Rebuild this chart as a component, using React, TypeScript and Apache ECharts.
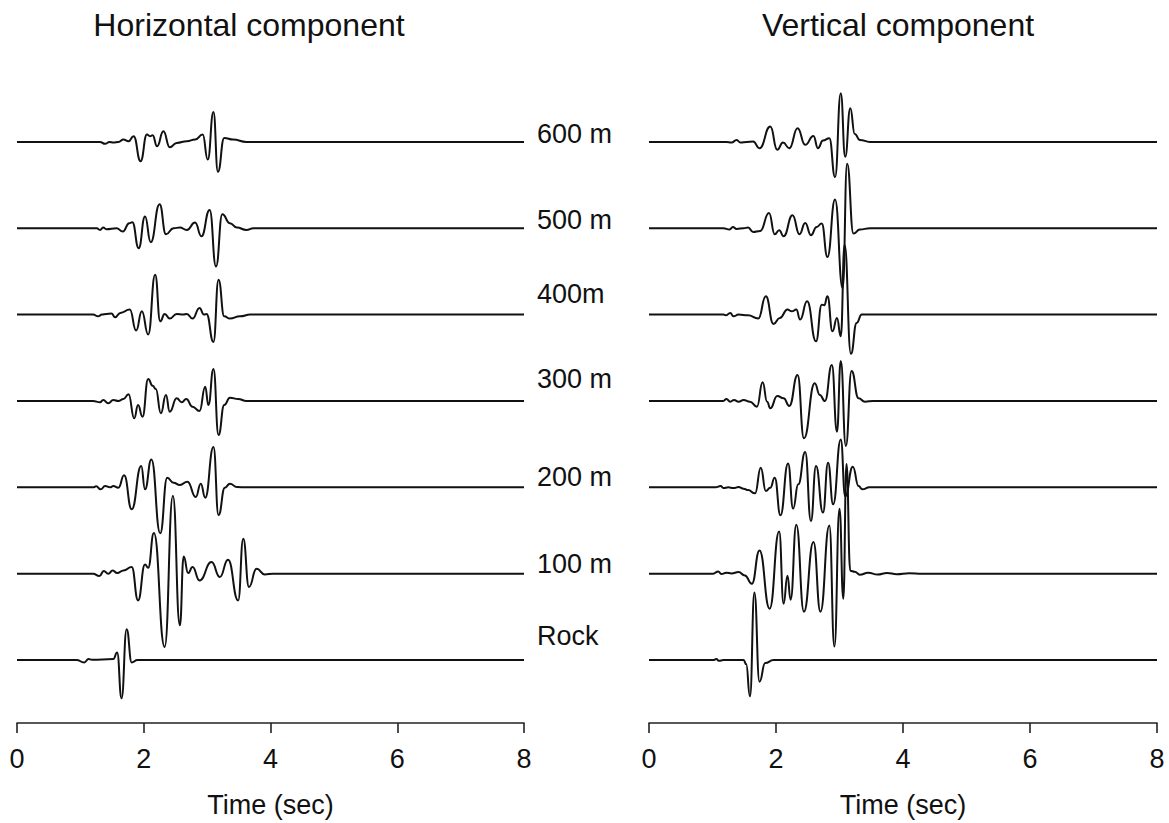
import React, { useEffect, useRef } from "react";
import * as echarts from "echarts";

// Trace labels (top to bottom) and axis ticks
const TRACE_LABELS = ["600 m", "500 m", "400m", "300 m", "200 m", "100 m", "Rock"];
const X_TICKS = [0, 2, 4, 6, 8];

// Horizontal component: [time (s), amplitude] read at the extrema of each trace
const H600: number[][] = [[0,0],[1.31,0],[1.39,-2],[1.46,0],[1.52,-0.7],[1.60,0],[1.68,2.3],[1.76,0.7],[1.84,5.7],[1.95,-19.3],[2.05,7.3],[2.10,5.7],[2.14,6.7],[2.21,-4.3],[2.31,10.7],[2.41,-5.3],[2.52,-1],[2.68,0.7],[2.81,2.3],[2.93,7.3],[3.01,-17.7],[3.10,30],[3.17,-30],[3.27,4],[3.41,2.3],[3.62,0],[8,0]];
const H500: number[][] = [[0,0],[1.26,0],[1.31,-1.7],[1.36,0.7],[1.41,-1],[1.57,0],[1.67,-3.3],[1.77,5],[1.82,6],[1.92,-20],[2.02,11.7],[2.11,-14],[2.25,24],[2.35,-6],[2.47,0],[2.57,0.7],[2.68,-1.7],[2.81,5.7],[2.91,-8],[3.04,18.3],[3.14,-38.3],[3.24,14],[3.36,5],[3.47,0.7],[3.62,-1.7],[3.73,0],[8,0]];
const H400: number[][] = [[0,0],[1.20,0],[1.28,-1.7],[1.34,0],[1.41,0.7],[1.49,1],[1.55,-2.7],[1.63,1.7],[1.78,5],[1.88,-16],[1.97,3.3],[2.07,-20],[2.18,40],[2.26,-6.7],[2.33,0.7],[2.41,-4],[2.52,0.7],[2.62,0],[2.68,0.7],[2.77,-4],[2.88,6.7],[2.95,0],[2.99,0.7],[3.10,-27.3],[3.18,35],[3.27,-1.7],[3.36,-4],[3.52,-1.7],[3.68,0],[8,0]];
const H300: number[][] = [[0,0],[1.20,0],[1.31,-1.3],[1.36,1],[1.44,-2.3],[1.52,1],[1.60,0],[1.68,2],[1.76,6.7],[1.85,-17.3],[1.91,-4],[1.98,-15.7],[2.07,22],[2.14,15.3],[2.19,12],[2.27,-12.3],[2.35,6],[2.41,-10.7],[2.52,2.7],[2.60,-1.3],[2.67,2],[2.77,-5.7],[2.88,-10],[2.97,14.3],[3.02,-4],[3.10,32],[3.18,-34],[3.27,-4],[3.36,3.3],[3.49,2],[3.62,0],[8,0]];
const H200: number[][] = [[0,0],[1.20,0],[1.25,1],[1.32,-2],[1.39,1.3],[1.47,0],[1.52,1.3],[1.60,-0.3],[1.69,12],[1.81,-22],[1.96,21.3],[2.02,-2],[2.12,28],[2.26,-46],[2.37,9.7],[2.47,4.7],[2.57,2.3],[2.69,5.7],[2.82,-9.7],[2.90,3.7],[2.97,-10.3],[3.10,40.3],[3.18,-27.7],[3.28,-0.3],[3.36,3.7],[3.47,0.3],[3.62,0],[8,0]];
const H100: number[][] = [[0,0],[1.20,0],[1.30,-2.3],[1.37,2.7],[1.44,0],[1.51,3.3],[1.58,0.7],[1.68,3.3],[1.81,6.7],[1.91,-26.7],[2.02,9.3],[2.07,6],[2.16,40.7],[2.33,-73.3],[2.46,78],[2.57,-51.7],[2.63,17.3],[2.70,0.7],[2.77,6.7],[2.88,-6.7],[3.07,11.7],[3.20,-3.3],[3.33,14],[3.49,-26.7],[3.57,35],[3.66,-13.3],[3.78,5],[3.91,-0.7],[4.04,0],[8,0]];
const HROCK: number[][] = [[0,0],[0.94,0],[1.06,-2.3],[1.13,1],[1.18,0.3],[1.52,1],[1.58,7.7],[1.65,-38.3],[1.73,31],[1.81,-2.3],[1.90,0],[8,0]];

// Vertical component
const V600: number[][] = [[0,0],[1.22,0],[1.30,-0.7],[1.38,2],[1.44,-0.7],[1.54,0],[1.64,0.3],[1.74,-6.3],[1.91,15.3],[2.02,-8],[2.11,-0.7],[2.21,-6.3],[2.34,13.7],[2.46,-3],[2.59,6],[2.66,-6.3],[2.74,1.3],[2.84,3.7],[2.93,-35.3],[3.02,48.7],[3.09,-15],[3.17,33.7],[3.24,8],[3.32,2],[3.48,0],[8,0]];
const V500: number[][] = [[0,0],[1.17,0],[1.27,-1.3],[1.32,1.3],[1.38,-0.7],[1.49,0],[1.56,0.7],[1.64,-3.7],[1.75,-2.7],[1.89,15.3],[1.98,-6],[2.05,-2],[2.12,-8],[2.26,13],[2.37,-6],[2.46,5.3],[2.55,-7],[2.64,1.3],[2.72,4.7],[2.81,-28.7],[2.93,28.7],[3.05,-60],[3.12,64.7],[3.22,-5.3],[3.32,-1.3],[3.48,0],[8,0]];
const V400: number[][] = [[0,0],[1.17,0],[1.21,-0.7],[1.28,1.7],[1.33,-1.7],[1.41,0],[1.56,-0.7],[1.72,-4],[1.84,18.3],[1.96,-9.3],[2.06,-3.3],[2.18,5],[2.25,3.3],[2.32,5],[2.38,-5],[2.49,13.3],[2.63,-26.7],[2.72,10],[2.76,9.3],[2.81,18.3],[2.89,-16.7],[2.96,-3.3],[3.02,-21.7],[3.08,70],[3.18,-39.3],[3.27,-8.3],[3.35,0],[8,0]];
const V300: number[][] = [[0,0],[1.17,0],[1.22,2],[1.28,-0.7],[1.34,1],[1.41,-0.7],[1.49,1],[1.59,-0.7],[1.70,-5.7],[1.79,18.7],[1.86,-0.7],[1.91,-7.3],[2.02,5],[2.12,2.7],[2.21,-5],[2.34,26],[2.44,-37.3],[2.61,17.7],[2.69,6],[2.77,0],[2.88,36],[2.96,-30.7],[3.02,40],[3.10,-45],[3.19,30],[3.30,2.7],[3.40,-0.7],[3.53,0],[8,0]];
const V200: number[][] = [[0,0],[1.05,0],[1.13,1.3],[1.17,-0.7],[1.25,0],[1.33,-0.7],[1.41,0.3],[1.49,-1.3],[1.56,-2.7],[1.67,-6],[1.76,19.7],[1.84,-3.7],[1.91,-0.3],[1.98,9.7],[2.07,-28],[2.19,24],[2.27,-21.3],[2.35,3],[2.46,35.3],[2.55,-33.7],[2.63,21.3],[2.74,-25.3],[2.82,24.7],[2.90,-17],[3.02,48],[3.09,-9],[3.21,20.7],[3.30,1.3],[3.36,-2],[3.47,0],[8,0]];
const V100: number[][] = [[0,0],[1.01,0],[1.09,2.3],[1.14,-0.3],[1.22,1],[1.30,0.3],[1.41,1.7],[1.51,-1.7],[1.62,-10],[1.74,23.3],[1.90,-35],[2.05,42.3],[2.12,-30],[2.18,-2],[2.23,-26],[2.32,49],[2.44,-38],[2.59,31.7],[2.70,-38],[2.84,48.3],[2.92,-73],[3.00,65],[3.06,-25],[3.11,110],[3.17,3],[3.24,2],[3.32,-1],[3.45,1],[3.60,-0.8],[3.75,0.8],[3.90,-0.5],[4.10,0.5],[4.30,0],[8,0]];
const VROCK: number[][] = [[0,0],[1.01,0],[1.06,1],[1.10,-0.7],[1.17,0],[1.49,0],[1.53,-4],[1.59,-36.3],[1.66,67.7],[1.74,-21.7],[1.83,-3],[1.96,0],[8,0]];

const HORIZONTAL = [H600, H500, H400, H300, H200, H100, HROCK];
const VERTICAL = [V600, V500, V400, V300, V200, V100, VROCK];

export default function App() {
  const ref = useRef<HTMLDivElement>(null);
  useEffect(() => {
    const el = ref.current;
    if (!el) return;
    const chart = echarts.init(el, null, { renderer: "svg" });
    const spacing = 86.5;
    const n = TRACE_LABELS.length;
    const font = "'Liberation Sans', Arial, Helvetica, sans-serif";
    const mkSeries = (traces: number[][][], idx: number, prefix: string) =>
      traces.map((pts, i) => ({
        type: "line",
        name: prefix + " " + TRACE_LABELS[i],
        xAxisIndex: idx,
        yAxisIndex: idx,
        data: pts.map(([t, a]) => [t, (n - 1 - i) * spacing + a]),
        showSymbol: false,
        symbol: "none",
        smooth: 0.5,
        smoothMonotone: "x",
        silent: true,
        lineStyle: { color: "#111111", width: 2 },
      }));
    const xAxisBase = (gridIndex: number) => ({
      type: "value",
      gridIndex,
      min: X_TICKS[0],
      max: X_TICKS[X_TICKS.length - 1],
      interval: 2,
      name: "Time (sec)",
      nameLocation: "middle",
      nameGap: 68,
      nameTextStyle: { fontFamily: font, fontSize: 27, color: "#111" },
      axisLine: { show: true, onZero: false, lineStyle: { color: "#222", width: 1.6 } },
      axisTick: { show: true, length: 10, lineStyle: { color: "#222", width: 1.6 } },
      axisLabel: { fontFamily: font, fontSize: 27, color: "#111", margin: 22 },
      splitLine: { show: false },
    });
    const yAxisBase = (gridIndex: number) => ({
      type: "value",
      gridIndex,
      min: -63,
      max: 600,
      show: false,
      splitLine: { show: false },
    });
    const labelYs = [134, 220, 294, 379, 477, 564, 636];
    chart.setOption({
      animation: false,
      backgroundColor: "#ffffff",
      grid: [
        { left: 17, top: 61, width: 507, height: 663 },
        { left: 649, top: 61, width: 508, height: 663 },
      ],
      xAxis: [xAxisBase(0), xAxisBase(1)],
      yAxis: [yAxisBase(0), yAxisBase(1)],
      series: [...mkSeries(HORIZONTAL, 0, "Horizontal"), ...mkSeries(VERTICAL, 1, "Vertical")],
      graphic: [
        {
          type: "text",
          x: 249,
          y: 25,
          style: { text: "Horizontal component", fontFamily: font, fontSize: 32, fill: "#111", textAlign: "center", textVerticalAlign: "middle" },
        },
        {
          type: "text",
          x: 898,
          y: 25,
          style: { text: "Vertical component", fontFamily: font, fontSize: 32, fill: "#111", textAlign: "center", textVerticalAlign: "middle" },
        },
        ...TRACE_LABELS.map((lab, i) => ({
          type: "text",
          x: 537,
          y: labelYs[i],
          style: { text: lab, fontFamily: font, fontSize: 27, fill: "#111", textAlign: "left", textVerticalAlign: "middle" },
        })),
      ],
    });
    return () => chart.dispose();
  }, []);
  return (
    <div
      ref={ref}
      style={{ position: "fixed", left: 0, top: 0, width: 1169, height: 823, background: "#fff" }}
    />
  );
}
